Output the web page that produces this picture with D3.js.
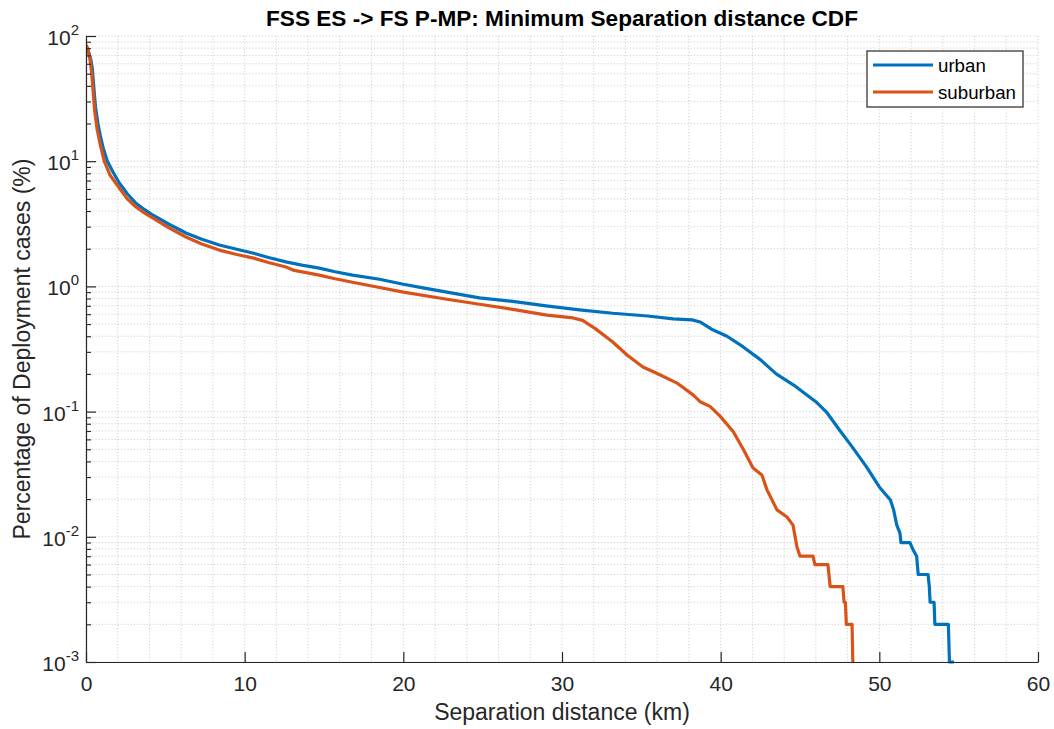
<!DOCTYPE html>
<html>
<head>
<meta charset="utf-8">
<script src="https://cdn.jsdelivr.net/npm/d3@7/dist/d3.min.js"></script>
<style>
  html, body { margin: 0; padding: 0; background: #ffffff; }
  svg { display: block; font-family: "Liberation Sans", Arial, Helvetica, sans-serif; }
</style>
</head>
<body>
<svg id="chart" width="1054" height="729"></svg>
<script>
// Minimum separation distance CDF, FSS ES -> FS P-MP
const seriesNames = ["urban", "suburban"];
const seriesColors = ["#0072BD", "#D95319"];

// urban: separation distance (km) and percentage of deployment cases (%)
const urbanKm = [0, 0.15, 0.3, 0.4, 0.5, 0.6, 0.75, 0.9, 1.1, 1.35, 1.7, 2.1, 2.6, 3.15, 3.7, 4.2, 5.2, 6.3, 7.3, 8.4,
  9.5, 10.5, 11.5, 12.6, 13.6, 14.7, 15.7, 16.8, 18.5, 20.0, 21.5, 22.75, 24.8, 26.9, 29.0, 31.1, 33.2, 35.4, 37.0, 38.2,
  38.7, 39.5, 40.4, 41.4, 42.5, 43.5, 44.6, 45.6, 46.0, 46.7, 47.5, 48.3, 49.2, 50.0, 50.7, 50.9, 51.1, 51.3, 51.36, 51.93,
  52.1, 52.35, 52.45, 53.07, 53.15, 53.2, 53.45, 53.5, 54.35, 54.42, 54.7];
const urbanPct = [84, 76, 65, 55, 38, 27, 20, 16, 12.5, 10, 8.2, 6.7, 5.5, 4.6, 4.1, 3.72, 3.15, 2.67, 2.38, 2.14,
  1.98, 1.85, 1.70, 1.57, 1.48, 1.40, 1.31, 1.23, 1.14, 1.04, 0.96, 0.90, 0.81, 0.76, 0.70, 0.65, 0.61, 0.58, 0.55, 0.54,
  0.52, 0.45, 0.40, 0.33, 0.26, 0.20, 0.163, 0.131, 0.12, 0.098, 0.071, 0.052, 0.036, 0.025, 0.0197, 0.0164, 0.0124, 0.0107, 0.009, 0.009,
  0.008, 0.007, 0.005, 0.005, 0.004, 0.003, 0.003, 0.002, 0.002, 0.001, 0.001];

// suburban: separation distance (km) and percentage of deployment cases (%)
const suburbanKm = [0, 0.1, 0.25, 0.35, 0.45, 0.55, 0.7, 0.9, 1.15, 1.5, 2.1, 2.6, 3.15, 3.7, 4.2, 5.2, 6.3, 7.3, 8.4,
  9.5, 10.5, 11.5, 12.6, 13.05, 14.7, 15.7, 16.8, 18.5, 20.0, 22.75, 24.8, 26.9, 29.05, 30.7, 31.3, 32.1, 33.2, 34.1, 35.1,
  36.2, 37.25, 38.26, 38.7, 39.33, 39.96, 40.8, 41.5, 42.04, 42.6, 42.92, 43.55, 44.18, 44.56, 44.81, 45.0, 45.82, 45.94,
  46.76, 46.9, 47.7, 47.78, 47.86, 47.92, 48.28, 48.33];
const suburbanPct = [85, 80, 65, 52, 36, 25, 18, 13.5, 10, 7.8, 6.1, 5.0, 4.31, 3.85, 3.52, 2.95, 2.48, 2.18, 1.95,
  1.80, 1.69, 1.55, 1.43, 1.35, 1.23, 1.15, 1.08, 0.98, 0.90, 0.79, 0.72, 0.655, 0.59, 0.56, 0.535, 0.46, 0.36, 0.283, 0.227,
  0.196, 0.169, 0.136, 0.12, 0.11, 0.092, 0.069, 0.048, 0.0355, 0.0312, 0.0237, 0.0164, 0.0144, 0.0124, 0.0083, 0.007, 0.007, 0.006,
  0.006, 0.004, 0.004, 0.003, 0.003, 0.002, 0.002, 0.001];

const xTicks = [0, 10, 20, 30, 40, 50, 60];
const yTickExponents = [-3, -2, -1, 0, 1, 2];

const titleText = "FSS ES -> FS P-MP: Minimum Separation distance CDF";
const xLabelText = "Separation distance (km)";
const yLabelText = "Percentage of Deployment cases (%)";

const svg = d3.select("#chart");
const plot = { left: 86, right: 1038, top: 36, bottom: 662 };

const x = d3.scaleLinear().domain([0, 60]).range([plot.left, plot.right]);
const y = d3.scaleLog().domain([1e-3, 1e2]).range([plot.bottom, plot.top]);

const axisColor = "#262626";
const gridColor = "#c8c8c8";

// Grid lines (dotted)
const grid = svg.append("g").attr("class", "grid");
const xGridVals = d3.range(0, 61, 2);
grid.selectAll("line.vx").data(xGridVals).enter().append("line")
  .attr("x1", d => x(d)).attr("x2", d => x(d))
  .attr("y1", plot.top).attr("y2", plot.bottom)
  .attr("stroke", gridColor).attr("stroke-width", 1)
  .attr("stroke-dasharray", "1,2.2");

const yGridVals = [];
for (let e = -3; e <= 1; e++) {
  for (let k = 1; k <= 9; k++) yGridVals.push(k * Math.pow(10, e));
}
yGridVals.push(100);
grid.selectAll("line.hy").data(yGridVals).enter().append("line")
  .attr("x1", plot.left).attr("x2", plot.right)
  .attr("y1", d => y(d)).attr("y2", d => y(d))
  .attr("stroke", gridColor).attr("stroke-width", 1)
  .attr("stroke-dasharray", "1,2.2");

// Curves
svg.append("defs").append("clipPath").attr("id", "plotClip")
  .append("rect").attr("x", plot.left).attr("y", plot.top - 2)
  .attr("width", plot.right - plot.left).attr("height", plot.bottom - plot.top + 4);

const line = d3.line().x(d => x(d[0])).y(d => y(d[1]));
const series = [
  { name: seriesNames[0], color: seriesColors[0], pts: urbanKm.map((k, i) => [k, urbanPct[i]]) },
  { name: seriesNames[1], color: seriesColors[1], pts: suburbanKm.map((k, i) => [k, suburbanPct[i]]) }
];
svg.append("g").attr("clip-path", "url(#plotClip)")
  .selectAll("path").data(series).enter().append("path")
  .attr("d", d => line(d.pts))
  .attr("fill", "none")
  .attr("stroke", d => d.color)
  .attr("stroke-width", 3.2)
  .attr("stroke-linejoin", "round")
  .attr("stroke-linecap", "butt");

// Axes (ticks point inward)
const xAxis = d3.axisBottom(x).tickValues(xTicks).tickSizeInner(-10).tickSizeOuter(0).tickPadding(14).tickFormat(d3.format("d"));
const gx = svg.append("g").attr("transform", `translate(0,${plot.bottom})`).call(xAxis);
gx.select(".domain").attr("stroke", axisColor).attr("stroke-width", 1.2);
gx.selectAll(".tick line").attr("stroke", axisColor).attr("stroke-width", 1.2);
gx.selectAll(".tick text").attr("fill", axisColor).attr("font-size", 21)
  .attr("font-family", "Liberation Sans, Arial, sans-serif");

const yMajor = yTickExponents.map(e => Math.pow(10, e));
const yAxis = d3.axisLeft(y).tickValues(yMajor).tickSizeInner(-10).tickSizeOuter(0).tickFormat("");
const gy = svg.append("g").attr("transform", `translate(${plot.left},0)`).call(yAxis);
gy.select(".domain").attr("stroke", axisColor).attr("stroke-width", 1.2);
gy.selectAll(".tick line").attr("stroke", axisColor).attr("stroke-width", 1.2);

// Minor y ticks
const yMinor = yGridVals.filter(v => !yMajor.some(m => Math.abs(m - v) / m < 1e-9));
const yAxisMinor = d3.axisLeft(y).tickValues(yMinor).tickSizeInner(-5).tickSizeOuter(0).tickFormat("");
const gym = svg.append("g").attr("transform", `translate(${plot.left},0)`).call(yAxisMinor);
gym.select(".domain").remove();
gym.selectAll(".tick line").attr("stroke", axisColor).attr("stroke-width", 1.1);

// Y tick labels as 10 with superscript exponent
const yLab = svg.append("g").attr("class", "ylabels");
yTickExponents.forEach(e => {
  const t = yLab.append("text")
    .attr("x", plot.left - 7)
    .attr("y", y(Math.pow(10, e)) + 9)
    .attr("text-anchor", "end")
    .attr("fill", axisColor)
    .attr("font-size", 21);
  t.append("tspan").text("10");
  t.append("tspan").attr("dy", -10).attr("font-size", 15).text(String(e));
});

// Title and axis labels
svg.append("text").attr("x", (plot.left + plot.right) / 2).attr("y", 26)
  .attr("text-anchor", "middle").attr("font-weight", "bold").attr("font-size", 22.6)
  .attr("fill", "#000").text(titleText);
svg.append("text").attr("x", (plot.left + plot.right) / 2).attr("y", 720)
  .attr("text-anchor", "middle").attr("font-size", 23)
  .attr("fill", axisColor).text(xLabelText);
svg.append("text")
  .attr("transform", `translate(30,${(plot.top + plot.bottom) / 2}) rotate(-90)`)
  .attr("text-anchor", "middle").attr("font-size", 23)
  .attr("fill", axisColor).text(yLabelText);

// Legend
const lg = svg.append("g").attr("class", "legend");
lg.append("rect").attr("x", 867).attr("y", 51).attr("width", 156).attr("height", 56)
  .attr("fill", "#fff").attr("stroke", axisColor).attr("stroke-width", 1.2);
series.forEach((s, i) => {
  const cy = 65 + i * 27;
  lg.append("line").attr("x1", 873).attr("x2", 933).attr("y1", cy).attr("y2", cy)
    .attr("stroke", s.color).attr("stroke-width", 3.2);
  lg.append("text").attr("x", 938).attr("y", cy + 6.5).attr("font-size", 18.7)
    .attr("fill", "#000").text(s.name);
});
</script>
</body>
</html>
